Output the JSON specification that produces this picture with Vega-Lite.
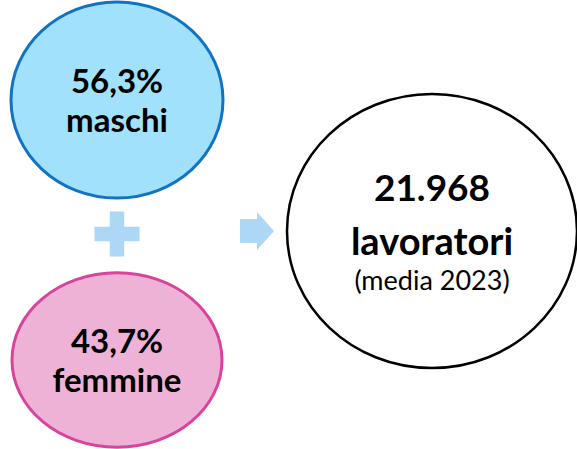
{
  "$schema": "https://vega.github.io/schema/vega-lite/v6.json",
  "width": 577,
  "height": 449,
  "autosize": "none",
  "padding": 0,
  "background": "white",
  "config": {
    "view": {"stroke": null},
    "locale": {"number": {"decimal": ",", "thousands": ".", "grouping": [3], "currency": ["€", ""]}}
  },
  "data": {
    "values": [
      {"gruppo": "maschi", "colonna": "sinistra", "riga": "alto", "quota": 0.563, "etichetta": "maschi"},
      {"gruppo": "femmine", "colonna": "sinistra", "riga": "basso", "quota": 0.437, "etichetta": "femmine"},
      {"gruppo": "totale", "colonna": "destra", "riga": "centro", "lavoratori": 21968, "etichetta": "lavoratori", "nota": "(media 2023)"},
      {"gruppo": "più", "colonna": "sinistra", "riga": "centro"},
      {"gruppo": "freccia", "colonna": "centro", "riga": "centro"}
    ]
  },
  "encoding": {
    "x": {"field": "colonna", "type": "nominal", "scale": {"type": "point", "domain": ["sinistra", "centro", "destra"], "range": [117, 432], "padding": 0}, "axis": null},
    "y": {"field": "riga", "type": "nominal", "scale": {"type": "point", "domain": ["alto", "centro", "basso"], "range": [100, 360], "padding": 0}, "axis": null}
  },
  "layer": [
    {
      "transform": [{"filter": "datum.gruppo === 'maschi'"}],
      "mark": {"type": "point", "filled": true, "opacity": 1, "shape": "M-1,0A1,0.925,0,1,1,1,0A1,0.925,0,1,1,-1,0Z", "size": 44944, "fill": "#a1e1fb", "stroke": "#1273c3", "strokeWidth": 3, "strokeOpacity": 1}
    },
    {
      "transform": [{"filter": "datum.gruppo === 'femmine'"}],
      "mark": {"type": "point", "filled": true, "opacity": 1, "shape": "M-1,0A1,0.83,0,1,1,1,0A1,0.83,0,1,1,-1,0Z", "size": 44100, "fill": "#efb2d7", "stroke": "#d8449c", "strokeWidth": 3, "strokeOpacity": 1}
    },
    {
      "transform": [{"filter": "datum.gruppo === 'totale'"}],
      "mark": {"type": "point", "filled": true, "opacity": 1, "shape": "M-1,0A1,0.945,0,1,1,1,0A1,0.945,0,1,1,-1,0Z", "size": 84100, "fill": "white", "stroke": "black", "strokeWidth": 2.5, "strokeOpacity": 1, "yOffset": 1}
    },
    {
      "transform": [{"filter": "datum.gruppo === 'più'"}],
      "mark": {"type": "point", "filled": true, "opacity": 1, "shape": "M-0.32,-1H0.32V-0.32H1V0.32H0.32V1H-0.32V0.32H-1V-0.32H-0.32Z", "size": 2025, "fill": "#acd8f6", "strokeWidth": 0, "yOffset": 4}
    },
    {
      "transform": [{"filter": "datum.gruppo === 'freccia'"}],
      "mark": {"type": "point", "filled": true, "opacity": 1, "shape": "M-0.895,-0.632H0V-1L0.895,0L0,1V0.632H-0.895Z", "size": 1444, "fill": "#acd8f6", "strokeWidth": 0, "xOffset": -17.5, "yOffset": 1}
    },
    {
      "transform": [{"filter": "isValid(datum.quota)"}],
      "mark": {"type": "text", "font": "Lato", "fontWeight": "bold", "fontSize": 33, "baseline": "alphabetic", "align": "center", "dy": -7, "color": "black"},
      "encoding": {"text": {"field": "quota", "type": "quantitative", "format": ".1%"}}
    },
    {
      "transform": [{"filter": "isValid(datum.quota)"}],
      "mark": {"type": "text", "font": "Lato", "fontWeight": "bold", "fontSize": 33, "baseline": "alphabetic", "align": "center", "dy": 32, "color": "black"},
      "encoding": {"text": {"field": "etichetta", "type": "nominal"}}
    },
    {
      "transform": [{"filter": "isValid(datum.lavoratori)"}],
      "mark": {"type": "text", "font": "Lato", "fontWeight": "bold", "fontSize": 37, "baseline": "alphabetic", "align": "center", "dy": -29, "color": "black"},
      "encoding": {"text": {"field": "lavoratori", "type": "quantitative", "format": ",d"}}
    },
    {
      "transform": [{"filter": "isValid(datum.lavoratori)"}],
      "mark": {"type": "text", "font": "Lato", "fontWeight": "bold", "fontSize": 38, "baseline": "alphabetic", "align": "center", "dy": 25, "color": "black"},
      "encoding": {"text": {"field": "etichetta", "type": "nominal"}}
    },
    {
      "transform": [{"filter": "isValid(datum.lavoratori)"}],
      "mark": {"type": "text", "font": "Lato", "fontWeight": "normal", "fontSize": 27, "baseline": "alphabetic", "align": "center", "dy": 60, "color": "black"},
      "encoding": {"text": {"field": "nota", "type": "nominal"}}
    }
  ]
}
